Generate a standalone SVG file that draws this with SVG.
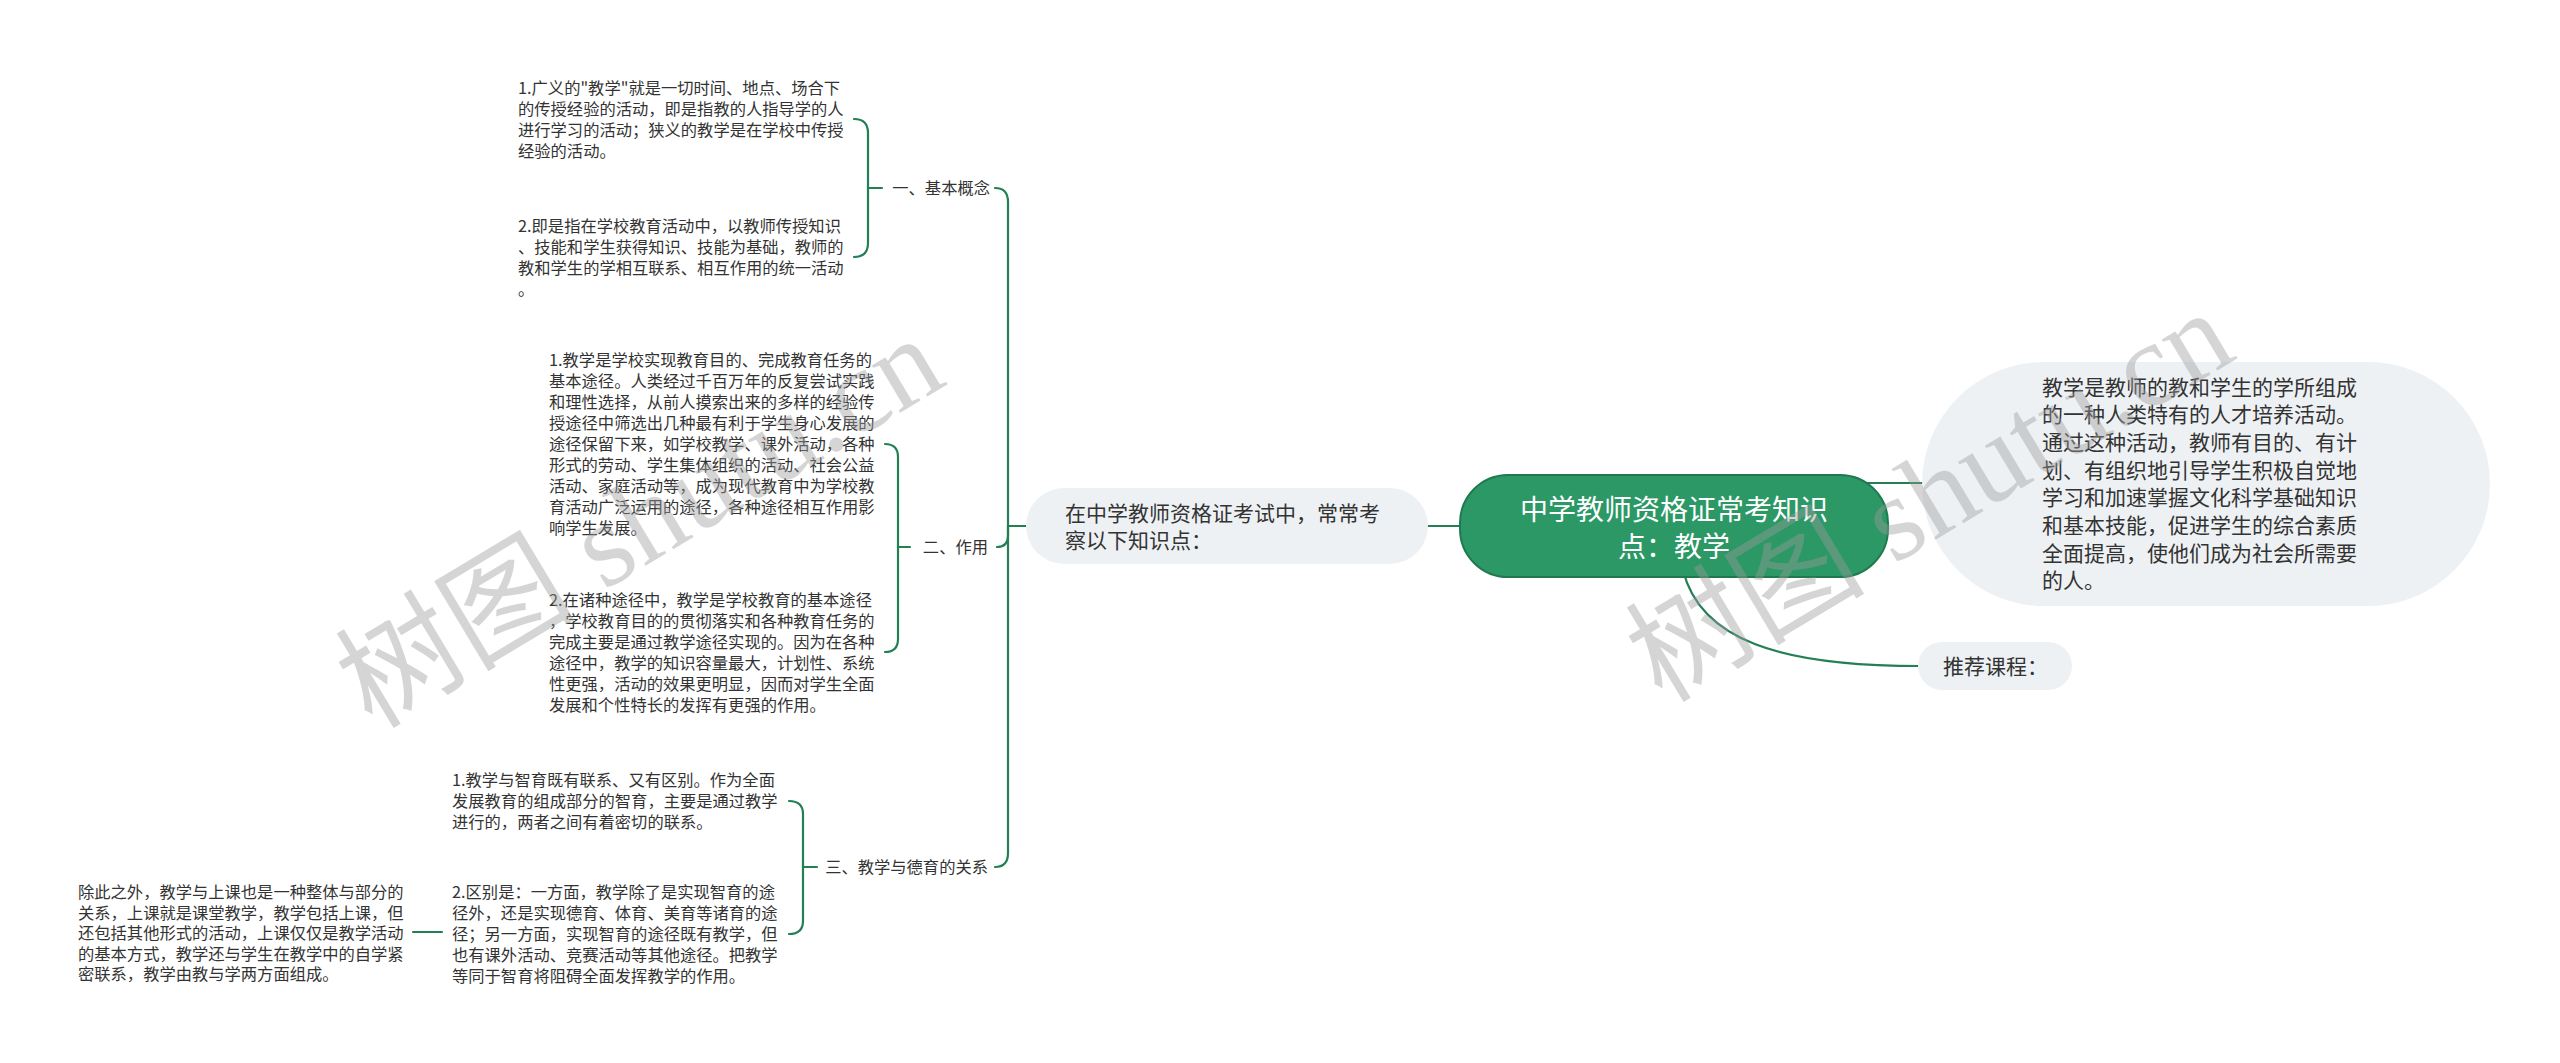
<svg xmlns="http://www.w3.org/2000/svg" width="2560" height="1063" viewBox="0 0 2560 1063">
<style>
text{font-family:"Noto Sans CJK SC","Noto Sans",sans-serif;fill:#333333}
.s{font-size:16.3px}
.m{font-size:21px}
.c{font-size:28px;fill:#ffffff}
.conn{fill:none;stroke:#237f54;stroke-width:2.2;stroke-linecap:round}
.light{fill:#eef1f4}
.wm{font-family:"Liberation Serif","Noto Sans CJK SC",serif;font-size:120px;fill:#9a9a9a;fill-opacity:0.42}
</style>
<rect width="2560" height="1063" fill="#ffffff"/>
<g id="connectors">
<path class="conn" d="M1470,526 H1420"/>
<path class="conn" d="M1860,483 H1925"/>
<path class="conn" d="M1683,570 C1700,640 1780,666 1920,666"/>
<path class="conn" d="M1030,526 H1008"/>
<path class="conn" d="M1008,526 V202 Q1008,188 995,188"/>
<path class="conn" d="M1008,526 V536 Q1008,547 997,547"/>
<path class="conn" d="M1008,526 V853 Q1008,867 995,867"/>
<path class="conn" d="M882,188 H868"/>
<path class="conn" d="M854,119 Q868,119 868,133 V243 Q868,257 854,257"/>
<path class="conn" d="M910,547 H898"/>
<path class="conn" d="M885,444 Q898,444 898,457 V639 Q898,652 885,652"/>
<path class="conn" d="M817,867 H803"/>
<path class="conn" d="M789,801 Q803,801 803,814 V921 Q803,934 789,934"/>
<path class="conn" d="M442,932 H413"/>
</g>
<g id="root">
<rect x="1460" y="475" width="428" height="102" rx="48" fill="#2b9866" stroke="#1f7a4f" stroke-width="2"/>
<text class="c" x="1674" y="520" text-anchor="middle">中学教师资格证常考知识</text>
<text class="c" x="1674" y="557" text-anchor="middle">点：教学</text>
</g>
<g id="intro">
<rect class="light" x="1026" y="488" width="402" height="76" rx="38"/>
<text class="m" x="1065" y="520.5">在中学教师资格证考试中，常常考</text>
<text class="m" x="1065" y="547.5">察以下知识点：</text>
</g>
<g id="definition">
<rect class="light" x="1922" y="362" width="568" height="244" rx="122"/>
<text class="m" x="2042" y="394.5">教学是教师的教和学生的学所组成<tspan x="2042" dy="27.7">的一种人类特有的人才培养活动。</tspan><tspan x="2042" dy="27.7">通过这种活动，教师有目的、有计</tspan><tspan x="2042" dy="27.7">划、有组织地引导学生积极自觉地</tspan><tspan x="2042" dy="27.7">学习和加速掌握文化科学基础知识</tspan><tspan x="2042" dy="27.7">和基本技能，促进学生的综合素质</tspan><tspan x="2042" dy="27.7">全面提高，使他们成为社会所需要</tspan><tspan x="2042" dy="27.7">的人。</tspan></text>
</g>
<g id="course">
<rect class="light" x="1918" y="642" width="154" height="48" rx="24"/>
<text class="m" x="1943" y="673.5">推荐课程：</text>
</g>
<g id="label-concept">
<text class="s" x="990" y="194" text-anchor="end">一、基本概念</text>
</g>
<g id="concept-1">
<text class="s" x="518" y="94">1.广义的"教学"就是一切时间、地点、场合下<tspan x="518" dy="21">的传授经验的活动，即是指教的人指导学的人</tspan><tspan x="518" dy="21">进行学习的活动；狭义的教学是在学校中传授</tspan><tspan x="518" dy="21">经验的活动。</tspan></text>
</g>
<g id="concept-2">
<text class="s" x="518" y="232">2.即是指在学校教育活动中，以教师传授知识<tspan x="518" dy="21">、技能和学生获得知识、技能为基础，教师的</tspan><tspan x="518" dy="21">教和学生的学相互联系、相互作用的统一活动</tspan><tspan x="518" dy="21">。</tspan></text>
</g>
<g id="label-role">
<text class="s" x="988" y="553" text-anchor="end">二、作用</text>
</g>
<g id="role-1">
<text class="s" x="549" y="366">1.教学是学校实现教育目的、完成教育任务的<tspan x="549" dy="21">基本途径。人类经过千百万年的反复尝试实践</tspan><tspan x="549" dy="21">和理性选择，从前人摸索出来的多样的经验传</tspan><tspan x="549" dy="21">授途径中筛选出几种最有利于学生身心发展的</tspan><tspan x="549" dy="21">途径保留下来，如学校教学、课外活动，各种</tspan><tspan x="549" dy="21">形式的劳动、学生集体组织的活动、社会公益</tspan><tspan x="549" dy="21">活动、家庭活动等，成为现代教育中为学校教</tspan><tspan x="549" dy="21">育活动广泛运用的途径，各种途径相互作用影</tspan><tspan x="549" dy="21">响学生发展。</tspan></text>
</g>
<g id="role-2">
<text class="s" x="549" y="606">2.在诸种途径中，教学是学校教育的基本途径<tspan x="549" dy="21">，学校教育目的的贯彻落实和各种教育任务的</tspan><tspan x="549" dy="21">完成主要是通过教学途径实现的。因为在各种</tspan><tspan x="549" dy="21">途径中，教学的知识容量最大，计划性、系统</tspan><tspan x="549" dy="21">性更强，活动的效果更明显，因而对学生全面</tspan><tspan x="549" dy="21">发展和个性特长的发挥有更强的作用。</tspan></text>
</g>
<g id="label-relation">
<text class="s" x="988" y="873" text-anchor="end">三、教学与德育的关系</text>
</g>
<g id="relation-1">
<text class="s" x="452" y="786">1.教学与智育既有联系、又有区别。作为全面<tspan x="452" dy="21">发展教育的组成部分的智育，主要是通过教学</tspan><tspan x="452" dy="21">进行的，两者之间有着密切的联系。</tspan></text>
</g>
<g id="relation-2">
<text class="s" x="452" y="898">2.区别是：一方面，教学除了是实现智育的途<tspan x="452" dy="21">径外，还是实现德育、体育、美育等诸育的途</tspan><tspan x="452" dy="21">径；另一方面，实现智育的途径既有教学，但</tspan><tspan x="452" dy="21">也有课外活动、竞赛活动等其他途径。把教学</tspan><tspan x="452" dy="21">等同于智育将阻碍全面发挥教学的作用。</tspan></text>
</g>
<g id="relation-extra">
<text class="s" x="78" y="898">除此之外，教学与上课也是一种整体与部分的<tspan x="78" dy="20.5">关系，上课就是课堂教学，教学包括上课，但</tspan><tspan x="78" dy="20.5">还包括其他形式的活动，上课仅仅是教学活动</tspan><tspan x="78" dy="20.5">的基本方式，教学还与学生在教学中的自学紧</tspan><tspan x="78" dy="20.5">密联系，教学由教与学两方面组成。</tspan></text>
</g>
<g id="watermarks">
<text class="wm" x="372" y="730" transform="rotate(-31 372 730)">树图 shutu.cn</text>
<text class="wm" x="1662" y="704" transform="rotate(-31 1662 704)">树图 shutu.cn</text>
</g>
</svg>
